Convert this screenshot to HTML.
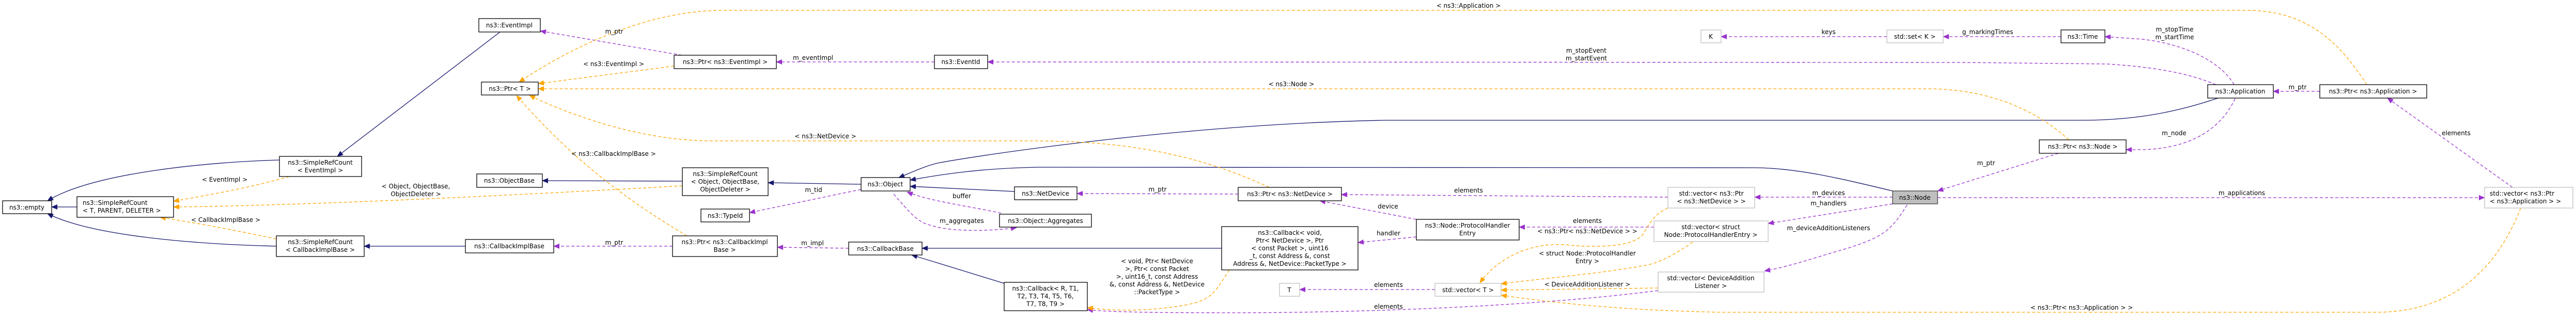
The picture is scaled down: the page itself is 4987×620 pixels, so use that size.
<!DOCTYPE html>
<html><head><meta charset="utf-8"><style>
html,body{margin:0;padding:0;background:#fff;}
svg{display:block;}
text{font-family:"DejaVu Sans","Liberation Sans",sans-serif;font-size:12px;fill:#000;}
.n{fill:none;stroke:#191970;stroke-width:1.3;}
.p{fill:none;stroke:#9a32cd;stroke-width:1.3;stroke-dasharray:6,4;}
.o{fill:none;stroke:#ffa500;stroke-width:1.3;stroke-dasharray:6,4;}
.b{fill:#fff;stroke:#000;stroke-width:1.3;}
.g{fill:#fff;stroke:#bfbfbf;stroke-width:1.3;}
</style></head><body>
<svg width="4987" height="620" viewBox="0 0 4987 620" xmlns="http://www.w3.org/2000/svg">
<defs>
<marker id="an" markerUnits="userSpaceOnUse" markerWidth="12" markerHeight="10" refX="11" refY="5" orient="auto"><path d="M0,0 L12,5 L0,10 Z" fill="#191970"/></marker>
<marker id="ap" markerUnits="userSpaceOnUse" markerWidth="12" markerHeight="10" refX="11" refY="5" orient="auto"><path d="M0,0 L12,5 L0,10 Z" fill="#9a32cd"/></marker>
<marker id="ao" markerUnits="userSpaceOnUse" markerWidth="12" markerHeight="10" refX="11" refY="5" orient="auto"><path d="M0,0 L12,5 L0,10 Z" fill="#ffa500"/></marker>
</defs>

<!-- navy inheritance -->
<path class="n" marker-end="url(#an)" d="M149,401 L100,401"/>
<path class="n" marker-end="url(#an)" d="M541,310 C400,314 180,335 92,389"/>
<path class="n" marker-end="url(#an)" d="M535,477 C380,473 180,458 92,414"/>
<path class="n" marker-end="url(#an)" d="M968,62 L653,303"/>
<path class="n" marker-end="url(#an)" d="M901,477 L705,477"/>
<path class="n" marker-end="url(#an)" d="M1321,351 L1050,350"/>
<path class="n" marker-end="url(#an)" d="M1667,357 L1487,354"/>
<path class="n" marker-end="url(#an)" d="M2365,481 L1785,481"/>
<path class="n" marker-end="url(#an)" d="M1944,549 L1765,494"/>
<path class="n" marker-end="url(#an)" d="M1964,371 L1762,361"/>
<path class="n" marker-end="url(#an)" d="M4294,190 C4220,215 4140,233 4030,233 L2683,233 C2300,240 1900,300 1815,316 C1790,322 1765,334 1740,344"/>
<path class="n" marker-end="url(#an)" d="M3664,370 C3560,345 3480,326 3400,325 L2008,324 C1900,326 1820,338 1762,349"/>

<!-- purple usage -->
<path class="p" marker-end="url(#ap)" d="M1320,107 L1046,60"/>
<path class="p" marker-end="url(#ap)" d="M1809,120 L1503,120"/>
<path class="p" marker-end="url(#ap)" d="M4290,164 C4250,148 4200,132 4080,124 L3800,121 L1912,120"/>
<path class="p" marker-end="url(#ap)" d="M3653,71 L3332,71"/>
<path class="p" marker-end="url(#ap)" d="M3990,71 L3762,71"/>
<path class="p" marker-end="url(#ap)" d="M4325,164 C4300,120 4230,85 4147,76 L4075,71"/>
<path class="p" marker-end="url(#ap)" d="M4491,177 L4401,177"/>
<path class="p" marker-end="url(#ap)" d="M4864,363 L4622,190"/>
<path class="p" marker-end="url(#ap)" d="M3751,383 L4810,383"/>
<path class="p" marker-end="url(#ap)" d="M4327,191 C4300,250 4240,288 4147,290 L4116,290"/>
<path class="p" marker-end="url(#ap)" d="M3985,297 L3751,370"/>
<path class="p" marker-end="url(#ap)" d="M1667,367 L1451,412"/>
<path class="p" marker-end="url(#ap)" d="M1938,413 C1880,400 1800,390 1756,372"/>
<path class="p" marker-end="url(#ap)" d="M1730,376 C1760,410 1775,430 1800,436 C1840,450 1920,448 1968,441"/>
<path class="p" marker-end="url(#ap)" d="M2397,376 L2085,375"/>
<path class="p" marker-end="url(#ap)" d="M3229,382 L2597,377"/>
<path class="p" marker-end="url(#ap)" d="M2742,425 L2555,389"/>
<path class="p" marker-end="url(#ap)" d="M2742,459 L2629,470"/>
<path class="p" marker-end="url(#ap)" d="M3202,440 L2941,440"/>
<path class="p" marker-end="url(#ap)" d="M3664,382 L3397,382"/>
<path class="p" marker-end="url(#ap)" d="M3664,395 L3423,433"/>
<path class="p" marker-end="url(#ap)" d="M3692,397 C3660,450 3640,460 3580,480 C3510,500 3470,515 3416,525"/>
<path class="p" marker-end="url(#ap)" d="M1643,481 L1505,479"/>
<path class="p" marker-end="url(#ap)" d="M1302,477 L1072,477"/>
<path class="p" marker-end="url(#ap)" d="M2778,561 L2516,561"/>
<path class="p" marker-end="url(#ap)" d="M3210,563 C3000,590 2700,605 2400,606 C2250,606 2150,605 2105,600"/>

<!-- orange template -->
<path class="o" marker-end="url(#ao)" d="M560,342 C480,365 400,378 336,390"/>
<path class="o" marker-end="url(#ao)" d="M1321,360 C1000,378 600,398 336,401"/>
<path class="o" marker-end="url(#ao)" d="M535,463 C450,445 380,432 310,421"/>
<path class="o" marker-end="url(#ao)" d="M1305,128 L1042,162"/>
<path class="o" marker-end="url(#ao)" d="M4582,164 C4540,100 4480,20 4350,20 L1400,20 C1250,20 1100,95 1005,159"/>
<path class="o" marker-end="url(#ao)" d="M4005,271 C3950,220 3860,172 3730,172 L1042,172"/>
<path class="o" marker-end="url(#ao)" d="M2457,363 C2300,290 2150,273 2000,273 L1380,273 C1250,273 1120,230 1025,185"/>
<path class="o" marker-end="url(#ao)" d="M1330,457 C1200,380 1100,300 1000,185"/>
<path class="o" marker-end="url(#ao)" d="M2380,523 C2355,560 2350,580 2300,590 C2220,605 2150,602 2105,596"/>
<path class="o" marker-end="url(#ao)" d="M3229,403 C3200,415 3190,440 3180,455 C3160,480 3080,480 3030,474 C2960,470 2900,500 2865,548"/>
<path class="o" marker-end="url(#ao)" d="M3277,469 C3240,495 3210,510 3186,514 C3100,530 2980,540 2906,550"/>
<path class="o" marker-end="url(#ao)" d="M3210,558 L2906,562"/>
<path class="o" marker-end="url(#ao)" d="M4880,403 C4850,480 4780,605 4600,605 L3330,605 C3100,600 2980,582 2906,572"/>

<!-- edge labels -->
<g text-anchor="middle">
<text x="435" y="352">&lt; EventImpl &gt;</text>
<text x="437" y="430">&lt; CallbackImplBase &gt;</text>
<text x="805" y="365">&lt; Object, ObjectBase,</text>
<text x="805" y="380">ObjectDeleter &gt;</text>
<text x="1189" y="65">m_ptr</text>
<text x="1188" y="128">&lt; ns3::EventImpl &gt;</text>
<text x="1574" y="116">m_eventImpl</text>
<text x="1188" y="302">&lt; ns3::CallbackImplBase &gt;</text>
<text x="1575" y="372">m_tid</text>
<text x="1189" y="474">m_ptr</text>
<text x="1573" y="475">m_impl</text>
<text x="1862" y="384">buffer</text>
<text x="1862" y="432">m_aggregates</text>
<text x="2241" y="371">m_ptr</text>
<text x="1598" y="268">&lt; ns3::NetDevice &gt;</text>
<text x="2500" y="167">&lt; ns3::Node &gt;</text>
<text x="2843" y="15">&lt; ns3::Application &gt;</text>
<text x="3071" y="102">m_stopEvent</text>
<text x="3071" y="117">m_startEvent</text>
<text x="2843" y="373">elements</text>
<text x="2687" y="404">device</text>
<text x="2688" y="456">handler</text>
<text x="3073" y="432">elements</text>
<text x="3073" y="452">&lt; ns3::Ptr&lt; ns3::NetDevice &gt; &gt;</text>
<text x="3073" y="495">&lt; struct Node::ProtocolHandler</text>
<text x="3073" y="510">Entry &gt;</text>
<text x="2688" y="556">elements</text>
<text x="3073" y="555">&lt; DeviceAdditionListener &gt;</text>
<text x="2688" y="598">elements</text>
<text x="3540" y="66">keys</text>
<text x="3848" y="66">g_markingTimes</text>
<text x="3845" y="320">m_ptr</text>
<text x="3540" y="378">m_devices</text>
<text x="3540" y="398">m_handlers</text>
<text x="3540" y="446">m_deviceAdditionListeners</text>
<text x="4030" y="600">&lt; ns3::Ptr&lt; ns3::Application &gt; &gt;</text>
<text x="4210" y="61">m_stopTime</text>
<text x="4210" y="76">m_startTime</text>
<text x="4448" y="173">m_ptr</text>
<text x="4209" y="262">m_node</text>
<text x="4755" y="262">elements</text>
<text x="4340" y="378">m_applications</text>
<text x="2240" y="510">&lt; void, Ptr&lt; NetDevice</text>
<text x="2240" y="525">&gt;, Ptr&lt; const Packet</text>
<text x="2240" y="540">&gt;, uint16_t, const Address</text>
<text x="2240" y="555">&amp;, const Address &amp;, NetDevice</text>
<text x="2240" y="570">::PacketType &gt;</text>
</g>

<!-- nodes -->
<rect class="b" x="5" y="389" width="95" height="25"/>
<rect class="b" x="149" y="381" width="187" height="40"/>
<rect class="b" x="541" y="303" width="159" height="39"/>
<rect class="b" x="535" y="457" width="170" height="40"/>
<rect class="b" x="927" y="36" width="119" height="26"/>
<rect class="b" x="932" y="159" width="110" height="25"/>
<rect class="b" x="1305" y="107" width="198" height="26"/>
<rect class="b" x="923" y="337" width="127" height="26"/>
<rect class="b" x="1321" y="325" width="166" height="54"/>
<rect class="b" x="1357" y="405" width="94" height="25"/>
<rect class="b" x="901" y="464" width="171" height="26"/>
<rect class="b" x="1302" y="457" width="203" height="40"/>
<rect class="b" x="1809" y="107" width="103" height="26"/>
<rect class="b" x="1667" y="344" width="95" height="26"/>
<rect class="b" x="1964" y="362" width="121" height="25"/>
<rect class="b" x="1935" y="415" width="178" height="25"/>
<rect class="b" x="1643" y="469" width="142" height="25"/>
<rect class="b" x="1944" y="547" width="161" height="55"/>
<rect class="b" x="2365" y="439" width="264" height="84"/>
<rect class="b" x="2397" y="363" width="200" height="26"/>
<rect class="g" x="2477" y="549" width="39" height="25"/>
<rect class="b" x="2742" y="425" width="199" height="40"/>
<rect class="g" x="2778" y="549" width="128" height="25"/>
<rect class="g" x="3229" y="363" width="168" height="40"/>
<rect class="g" x="3202" y="428" width="221" height="40"/>
<rect class="g" x="3210" y="527" width="205" height="39"/>
<rect class="g" x="3293" y="58" width="39" height="25"/>
<rect class="g" x="3653" y="58" width="109" height="25"/>
<rect class="b" x="3990" y="58" width="85" height="25"/>
<rect class="b" x="3948" y="271" width="168" height="26"/>
<rect x="3664" y="370" width="87" height="25" fill="#bfbfbf" stroke="#404040" stroke-width="1.3"/>
<rect class="b" x="4274" y="164" width="127" height="26"/>
<rect class="b" x="4491" y="164" width="207" height="26"/>
<rect class="g" x="4810" y="363" width="171" height="40"/>

<g text-anchor="middle">
<text x="52" y="406">ns3::empty</text>
<text x="620" y="319">ns3::SimpleRefCount</text>
<text x="620" y="334">&lt; EventImpl &gt;</text>
<text x="620" y="473">ns3::SimpleRefCount</text>
<text x="620" y="488">&lt; CallbackImplBase &gt;</text>
<text x="986" y="53">ns3::EventImpl</text>
<text x="987" y="176">ns3::Ptr&lt; T &gt;</text>
<text x="1404" y="124">ns3::Ptr&lt; ns3::EventImpl &gt;</text>
<text x="986" y="354">ns3::ObjectBase</text>
<text x="1404" y="341">ns3::SimpleRefCount</text>
<text x="1404" y="356">&lt; Object, ObjectBase,</text>
<text x="1404" y="371">ObjectDeleter &gt;</text>
<text x="1404" y="422">ns3::TypeId</text>
<text x="986" y="481">ns3::CallbackImplBase</text>
<text x="1403" y="473">ns3::Ptr&lt; ns3::CallbackImpl</text>
<text x="1403" y="488">Base &gt;</text>
<text x="1860" y="124">ns3::EventId</text>
<text x="1714" y="361">ns3::Object</text>
<text x="2024" y="379">ns3::NetDevice</text>
<text x="2024" y="432">ns3::Object::Aggregates</text>
<text x="1714" y="486">ns3::CallbackBase</text>
<text x="2024" y="563">ns3::Callback&lt; R, T1,</text>
<text x="2024" y="578">T2, T3, T4, T5, T6,</text>
<text x="2024" y="593">T7, T8, T9 &gt;</text>
<text x="2497" y="455">ns3::Callback&lt; void,</text>
<text x="2497" y="470">Ptr&lt; NetDevice &gt;, Ptr</text>
<text x="2497" y="485">&lt; const Packet &gt;, uint16</text>
<text x="2497" y="500">_t, const Address &amp;, const</text>
<text x="2497" y="515">Address &amp;, NetDevice::PacketType &gt;</text>
<text x="2497" y="380">ns3::Ptr&lt; ns3::NetDevice &gt;</text>
<text x="2496" y="566">T</text>
<text x="2841" y="441">ns3::Node::ProtocolHandler</text>
<text x="2841" y="456">Entry</text>
<text x="2842" y="566">std::vector&lt; T &gt;</text>
<text x="3313" y="379">std::vector&lt; ns3::Ptr</text>
<text x="3313" y="394">&lt; ns3::NetDevice &gt; &gt;</text>
<text x="3312" y="444">std::vector&lt; struct</text>
<text x="3312" y="459">Node::ProtocolHandlerEntry &gt;</text>
<text x="3312" y="543">std::vector&lt; DeviceAddition</text>
<text x="3312" y="558">Listener &gt;</text>
<text x="3312" y="75">K</text>
<text x="3707" y="75">std::set&lt; K &gt;</text>
<text x="4032" y="75">ns3::Time</text>
<text x="4032" y="288">ns3::Ptr&lt; ns3::Node &gt;</text>
<text x="3707" y="387">ns3::Node</text>
<text x="4337" y="181">ns3::Application</text>
<text x="4594" y="181">ns3::Ptr&lt; ns3::Application &gt;</text>
</g>
<g text-anchor="start">
<text x="160" y="397">ns3::SimpleRefCount</text>
<text x="160" y="412">&lt; T, PARENT, DELETER &gt;</text>
<text x="4820" y="379">std::vector&lt; ns3::Ptr</text>
<text x="4820" y="394">&lt; ns3::Application &gt; &gt;</text>
</g>
</svg>
</body></html>
